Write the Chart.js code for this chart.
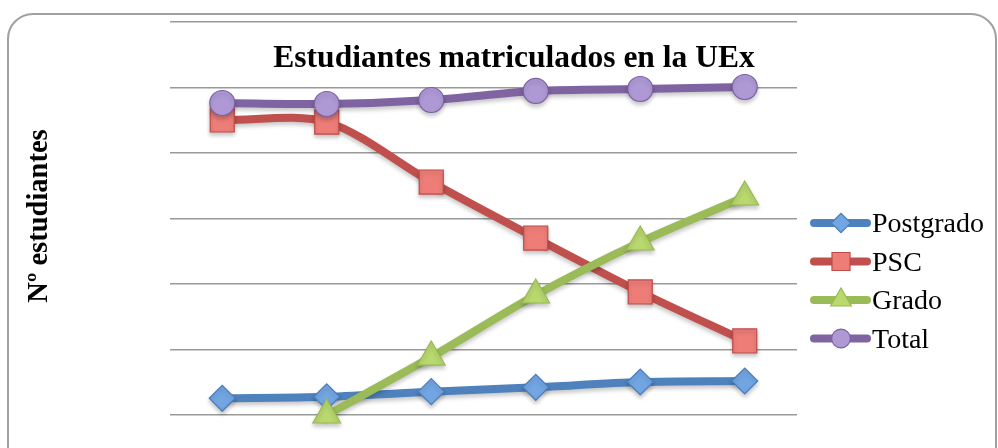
<!DOCTYPE html>
<html lang="es">
<head>
    <meta charset="UTF-8">
    <title>Estudiantes matriculados en la UEx</title>
    <script src="https://cdn.jsdelivr.net/npm/chart.js"></script>
    <style>
        body {
            margin: 0;
            background: #fff;
            overflow: hidden;
        }

        .marco {
            position: absolute;
            left: 7px;
            top: 13px;
            width: 986px;
            height: 470px;
            border: 2px solid #a0a0a0;
            border-radius: 26px;
        }

        #grafico {
            position: absolute;
            left: 0;
            top: 0;
        }
    </style>
</head>
<body>
    <div class="marco"></div>
    <canvas id="grafico" width="998" height="448"></canvas>

    <script>
        // años académicos (no se muestran etiquetas en el eje)
        const cursos = ['2005', '2006', '2007', '2008', '2009', '2010'];

        const postgrado = [255, 279, 356, 423, 504, 519];
        const psc = [4504, 4473, 3557, 2702, 1878, 1130];
        const grado = [null, 0, 885, 1832, 2641, 3328];
        const total = [4763, 4748, 4809, 4947, 4977, 5008];

        const ejeMin = 0;
        const ejeMax = 6000;
        const ejePaso = 1000;

        // título y leyenda se pintan a mano, como en la hoja de cálculo
        const textosPlugin = {
            id: 'textos',
            afterDraw(chart) {
                const ctx = chart.ctx;
                ctx.save();
                ctx.fillStyle = '#000';
                ctx.textBaseline = 'alphabetic';

                ctx.font = 'bold 31.5px "Liberation Serif"';
                ctx.textAlign = 'center';
                ctx.fillText('Estudiantes matriculados en la UEx', 514, 67);

                ctx.save();
                ctx.translate(47, 216);
                ctx.rotate(-Math.PI / 2);
                ctx.font = 'bold 28.5px "Liberation Serif"';
                ctx.fillText('Nº estudiantes', 0, 0);
                ctx.restore();

                // leyenda
                ctx.textAlign = 'left';
                ctx.font = '28px "Liberation Serif"';
                chart.data.datasets.forEach((ds, i) => {
                    const y = 223 + i * 38.5;
                    ctx.strokeStyle = ds.borderColor;
                    ctx.lineWidth = 8;
                    ctx.lineCap = 'round';
                    ctx.beginPath();
                    ctx.moveTo(814, y);
                    ctx.lineTo(867, y);
                    ctx.stroke();

                    ctx.fillStyle = ds.pointBackgroundColor;
                    ctx.strokeStyle = ds.pointBorderColor;
                    ctx.lineWidth = 1.2;
                    Chart.helpers.drawPoint(ctx, {
                        pointStyle: ds.pointStyle,
                        radius: ds.pointRadius * 0.75,
                        rotation: 0,
                        borderWidth: 1.2
                    }, 841, y);
                    ctx.fillStyle = '#000';
                    ctx.fillText(ds.label, 872, y + 9);
                });
                ctx.restore();
            }
        };

        const sombraPlugin = {
            id: 'sombra',
            beforeDatasetsDraw(chart) {
                const ctx = chart.ctx;
                ctx.save();
                ctx.shadowColor = 'rgba(0,0,0,0.22)';
                ctx.shadowBlur = 4;
                ctx.shadowOffsetY = 3;
            },
            afterDatasetsDraw(chart) {
                chart.ctx.restore();
            }
        };

        new Chart(document.getElementById('grafico'), {
            type: 'line',
            data: {
                labels: cursos,
                datasets: [
                    {
                        label: 'Postgrado',
                        data: postgrado,
                        borderColor: '#4f81bd',
                        pointBackgroundColor: '#72a6e2',
                        pointBorderColor: '#4a7ebb',
                        pointStyle: 'rectRot',
                        pointRadius: 13,
                        order: 4
                    },
                    {
                        label: 'PSC',
                        data: psc,
                        borderColor: '#c0504d',
                        pointBackgroundColor: '#ee7d78',
                        pointBorderColor: '#be4b48',
                        pointStyle: 'rect',
                        pointRadius: 17,
                        order: 3
                    },
                    {
                        label: 'Grado',
                        data: grado,
                        borderColor: '#9bbb59',
                        pointBackgroundColor: '#b9d86e',
                        pointBorderColor: '#98b954',
                        pointStyle: 'triangle',
                        pointRadius: 16,
                        order: 2
                    },
                    {
                        label: 'Total',
                        data: total,
                        borderColor: '#8064a2',
                        pointBackgroundColor: '#ae99d5',
                        pointBorderColor: '#7d60a0',
                        pointStyle: 'circle',
                        pointRadius: 12.5,
                        order: 1
                    }
                ]
            },
            options: {
                responsive: false,
                animation: false,
                layout: {
                    padding: { left: 170, right: 201, top: 22, bottom: 33 }
                },
                elements: {
                    line: {
                        borderWidth: 8,
                        tension: 0.3,
                        borderCapStyle: 'round'
                    },
                    point: {
                        borderWidth: 1.2,
                        hoverRadius: 13
                    }
                },
                datasets: {
                    line: { clip: false }
                },
                plugins: {
                    legend: { display: false },
                    title: { display: false },
                    tooltip: { enabled: false }
                },
                scales: {
                    x: {
                        display: false,
                        offset: true
                    },
                    y: {
                        min: ejeMin,
                        max: ejeMax,
                        ticks: { display: false, stepSize: ejePaso },
                        border: { display: false },
                        grid: {
                            color: '#9a9a9a',
                            lineWidth: 1.5,
                            drawTicks: false
                        }
                    }
                }
            },
            plugins: [sombraPlugin, textosPlugin]
        });
    </script>
</body>
</html>
